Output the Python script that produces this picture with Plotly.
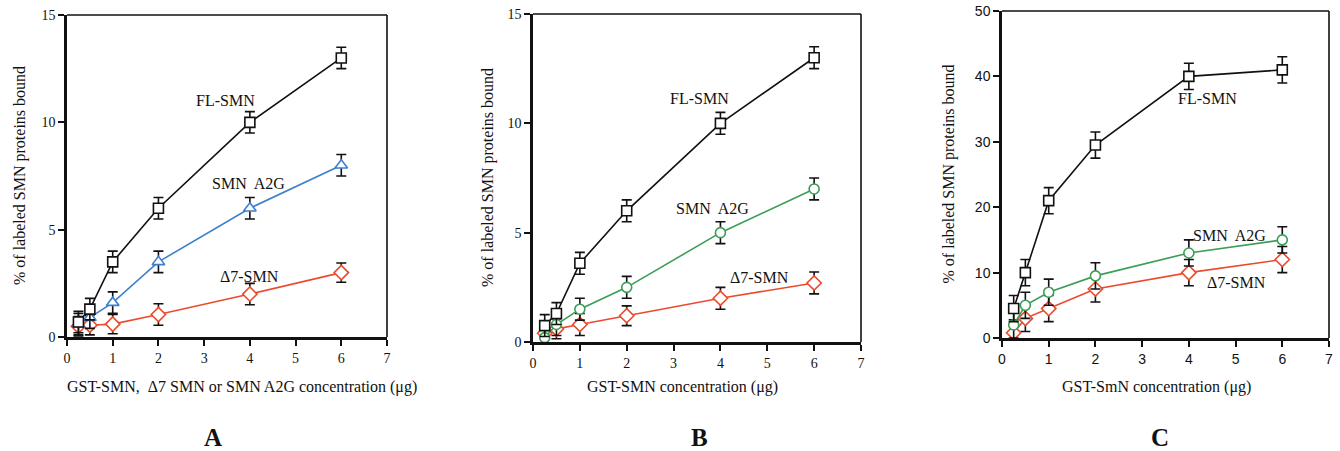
import plotly.graph_objects as go

# ---------------- data ----------------
conc = [0.25, 0.5, 1, 2, 4, 6]

# Panel A
a_fl = [0.7, 1.3, 3.5, 6.0, 10.0, 13.0]
a_fl_err = [0.5, 0.5, 0.5, 0.5, 0.5, 0.5]
a_a2g = [0.6, 0.9, 1.6, 3.5, 6.0, 8.0]
a_a2g_err = [0.5, 0.5, 0.5, 0.5, 0.5, 0.5]
a_d7 = [0.5, 0.55, 0.6, 1.05, 2.0, 3.0]
a_d7_err = [0.45, 0.45, 0.45, 0.5, 0.5, 0.45]

# Panel B
b_fl = [0.75, 1.3, 3.6, 6.0, 10.0, 13.0]
b_fl_err = [0.5, 0.5, 0.5, 0.5, 0.5, 0.5]
b_a2g = [0.2, 0.8, 1.5, 2.5, 5.0, 7.0]
b_a2g_err = [0.5, 0.5, 0.5, 0.5, 0.5, 0.5]
b_d7 = [0.4, 0.6, 0.8, 1.2, 2.0, 2.7]
b_d7_err = [0.45, 0.45, 0.5, 0.45, 0.5, 0.5]

# Panel C
c_fl = [4.5, 10.0, 21.0, 29.5, 40.0, 41.0]
c_fl_err = [2.0, 2.0, 2.0, 2.0, 2.0, 2.0]
c_a2g = [2.0, 5.0, 7.0, 9.5, 13.0, 15.0]
c_a2g_err = [2.0, 2.0, 2.0, 2.0, 2.0, 2.0]
c_d7 = [0.8, 3.0, 4.5, 7.5, 10.0, 12.0]
c_d7_err = [2.0, 2.0, 2.0, 2.0, 2.0, 2.0]

x_ticks = [0, 1, 2, 3, 4, 5, 6, 7]
y_ticks_ab = [0, 5, 10, 15]
y_ticks_c = [0, 10, 20, 30, 40, 50]

y_title = "% of labeled SMN proteins bound"
x_titles = ["GST-SMN,  \u03947 SMN or SMN A2G concentration (\u03bcg)",
            "GST-SMN concentration (\u03bcg)",
            "GST-SmN concentration (\u03bcg)"]
panel_letters = ["A", "B", "C"]
label_fl = "FL-SMN"
label_a2g = "SMN  A2G"
label_d7 = "\u03947-SMN"

# ---------------- styles ----------------
BLACK = "#111111"
BLUE = "#3f7fcc"
RED = "#ec4a2e"
GREEN = "#3b9e57"
SERIF = "Liberation Serif, Times New Roman, serif"
SANS = "Liberation Sans, Arial, sans-serif"

fig = go.Figure()


def add_series(x, y, err, color, symbol, size, xa, ya):
    fig.add_trace(go.Scatter(
        x=x, y=y, mode="lines+markers",
        line=dict(color=color, width=1.6),
        marker=dict(symbol=symbol, size=size, color="white",
                    line=dict(color=color, width=1.6)),
        error_y=dict(type="data", array=err, visible=True,
                     color=BLACK, thickness=1.6, width=5),
        xaxis=xa, yaxis=ya, showlegend=False, cliponaxis=False,
    ))


# panel A
add_series(conc, a_d7, a_d7_err, RED, "diamond", 11, "x", "y")
add_series(conc, a_a2g, a_a2g_err, BLUE, "triangle-up", 11, "x", "y")
add_series(conc, a_fl, a_fl_err, BLACK, "square", 10, "x", "y")
# panel B
add_series(conc, b_d7, b_d7_err, RED, "diamond", 11, "x2", "y2")
add_series(conc, b_a2g, b_a2g_err, GREEN, "circle", 10, "x2", "y2")
add_series(conc, b_fl, b_fl_err, BLACK, "square", 10, "x2", "y2")
# panel C
add_series(conc, c_d7, c_d7_err, RED, "diamond", 11, "x3", "y3")
add_series(conc, c_a2g, c_a2g_err, GREEN, "circle", 10, "x3", "y3")
add_series(conc, c_fl, c_fl_err, BLACK, "square", 10, "x3", "y3")

W, H = 1340, 451
# pixel boxes: left, right, top, bottom
boxes = [(67, 387, 15, 337), (533, 861, 14, 342), (1002, 1329, 11, 338)]
tick_fonts = [SERIF, SERIF, SANS]
y_ranges = [[0, 15], [0, 15], [0, 50]]
y_tickvals = [y_ticks_ab, y_ticks_ab, y_ticks_c]

layout = dict(width=W, height=H, margin=dict(l=0, r=0, t=0, b=0, autoexpand=False),
              paper_bgcolor="white", plot_bgcolor="white")
shapes = []
annotations = []
for i, (l, r, t, b) in enumerate(boxes):
    sfx = "" if i == 0 else str(i + 1)
    xd = [l / W, r / W]
    yd = [1 - b / H, 1 - t / H]
    layout["xaxis" + sfx] = dict(
        domain=xd, range=[0, 7], tickvals=x_ticks, ticks="outside",
        ticklen=6, tickwidth=1.5, tickcolor=BLACK, showline=True,
        linewidth=2.5, linecolor=BLACK, showgrid=False, zeroline=False,
        automargin=False,
        anchor="y" + sfx, tickfont=dict(family=tick_fonts[i], size=14, color=BLACK),
        fixedrange=True)
    layout["yaxis" + sfx] = dict(
        domain=yd, range=y_ranges[i], tickvals=y_tickvals[i], ticks="outside",
        ticklen=6, tickwidth=1.5, tickcolor=BLACK, showline=True,
        linewidth=2.5, linecolor=BLACK, showgrid=False, zeroline=False,
        automargin=False,
        anchor="x" + sfx, tickfont=dict(family=tick_fonts[i], size=14, color=BLACK),
        fixedrange=True)
    # top & right frame (thinner)
    shapes.append(dict(type="line", xref="x%s domain" % sfx, yref="y%s domain" % sfx,
                       x0=0, x1=1, y0=1, y1=1, line=dict(color=BLACK, width=1.6)))
    shapes.append(dict(type="line", xref="x%s domain" % sfx, yref="y%s domain" % sfx,
                       x0=1, x1=1, y0=0, y1=1, line=dict(color=BLACK, width=1.6)))

# axis titles and panel letters (paper coords from pixel positions)
ytitle_x = [20, 488, 948]
xtitle_x = [242, 682, 1156]
letter_x = [213, 700, 1160]
for i in range(3):
    l, r, t, b = boxes[i]
    annotations.append(dict(xref="paper", yref="paper", x=ytitle_x[i] / W,
                            y=1 - ((t + b) / 2) / H, text=y_title, showarrow=False,
                            xanchor="center", yanchor="middle",
                            textangle=-90, font=dict(family=SERIF, size=16, color=BLACK)))
    annotations.append(dict(xref="paper", yref="paper", x=xtitle_x[i] / W,
                            y=1 - 387 / H, text=x_titles[i], showarrow=False,
                            xanchor="center", yanchor="middle",
                            font=dict(family=SERIF, size=16, color=BLACK)))
    annotations.append(dict(xref="paper", yref="paper", x=letter_x[i] / W,
                            y=1 - 437 / H, text="<b>%s</b>" % panel_letters[i],
                            showarrow=False, xanchor="center", yanchor="middle",
                            font=dict(family=SERIF, size=25, color=BLACK)))

# series labels (data coords)
series_labels = [
    ("x", "y", 3.46, 11.0, label_fl), ("x", "y", 3.96, 7.15, label_a2g), ("x", "y", 4.0, 2.8, label_d7),
    ("x2", "y2", 3.56, 11.15, label_fl), ("x2", "y2", 3.84, 6.1, label_a2g), ("x2", "y2", 4.84, 2.96, label_d7),
    ("x3", "y3", 4.39, 36.6, label_fl), ("x3", "y3", 4.88, 15.7, label_a2g), ("x3", "y3", 5.03, 8.5, label_d7),
]
for xa, ya, x, y, txt in series_labels:
    annotations.append(dict(xref=xa, yref=ya, x=x, y=y, text=txt, showarrow=False,
                            xanchor="center", yanchor="middle",
                            font=dict(family=SERIF, size=16, color=BLACK)))

layout["shapes"] = shapes
layout["annotations"] = annotations
fig.update_layout(**layout)
fig.write_html("out.html", config={"displayModeBar": False},
               post_script="document.body.style.margin='0';document.body.style.padding='0';")
